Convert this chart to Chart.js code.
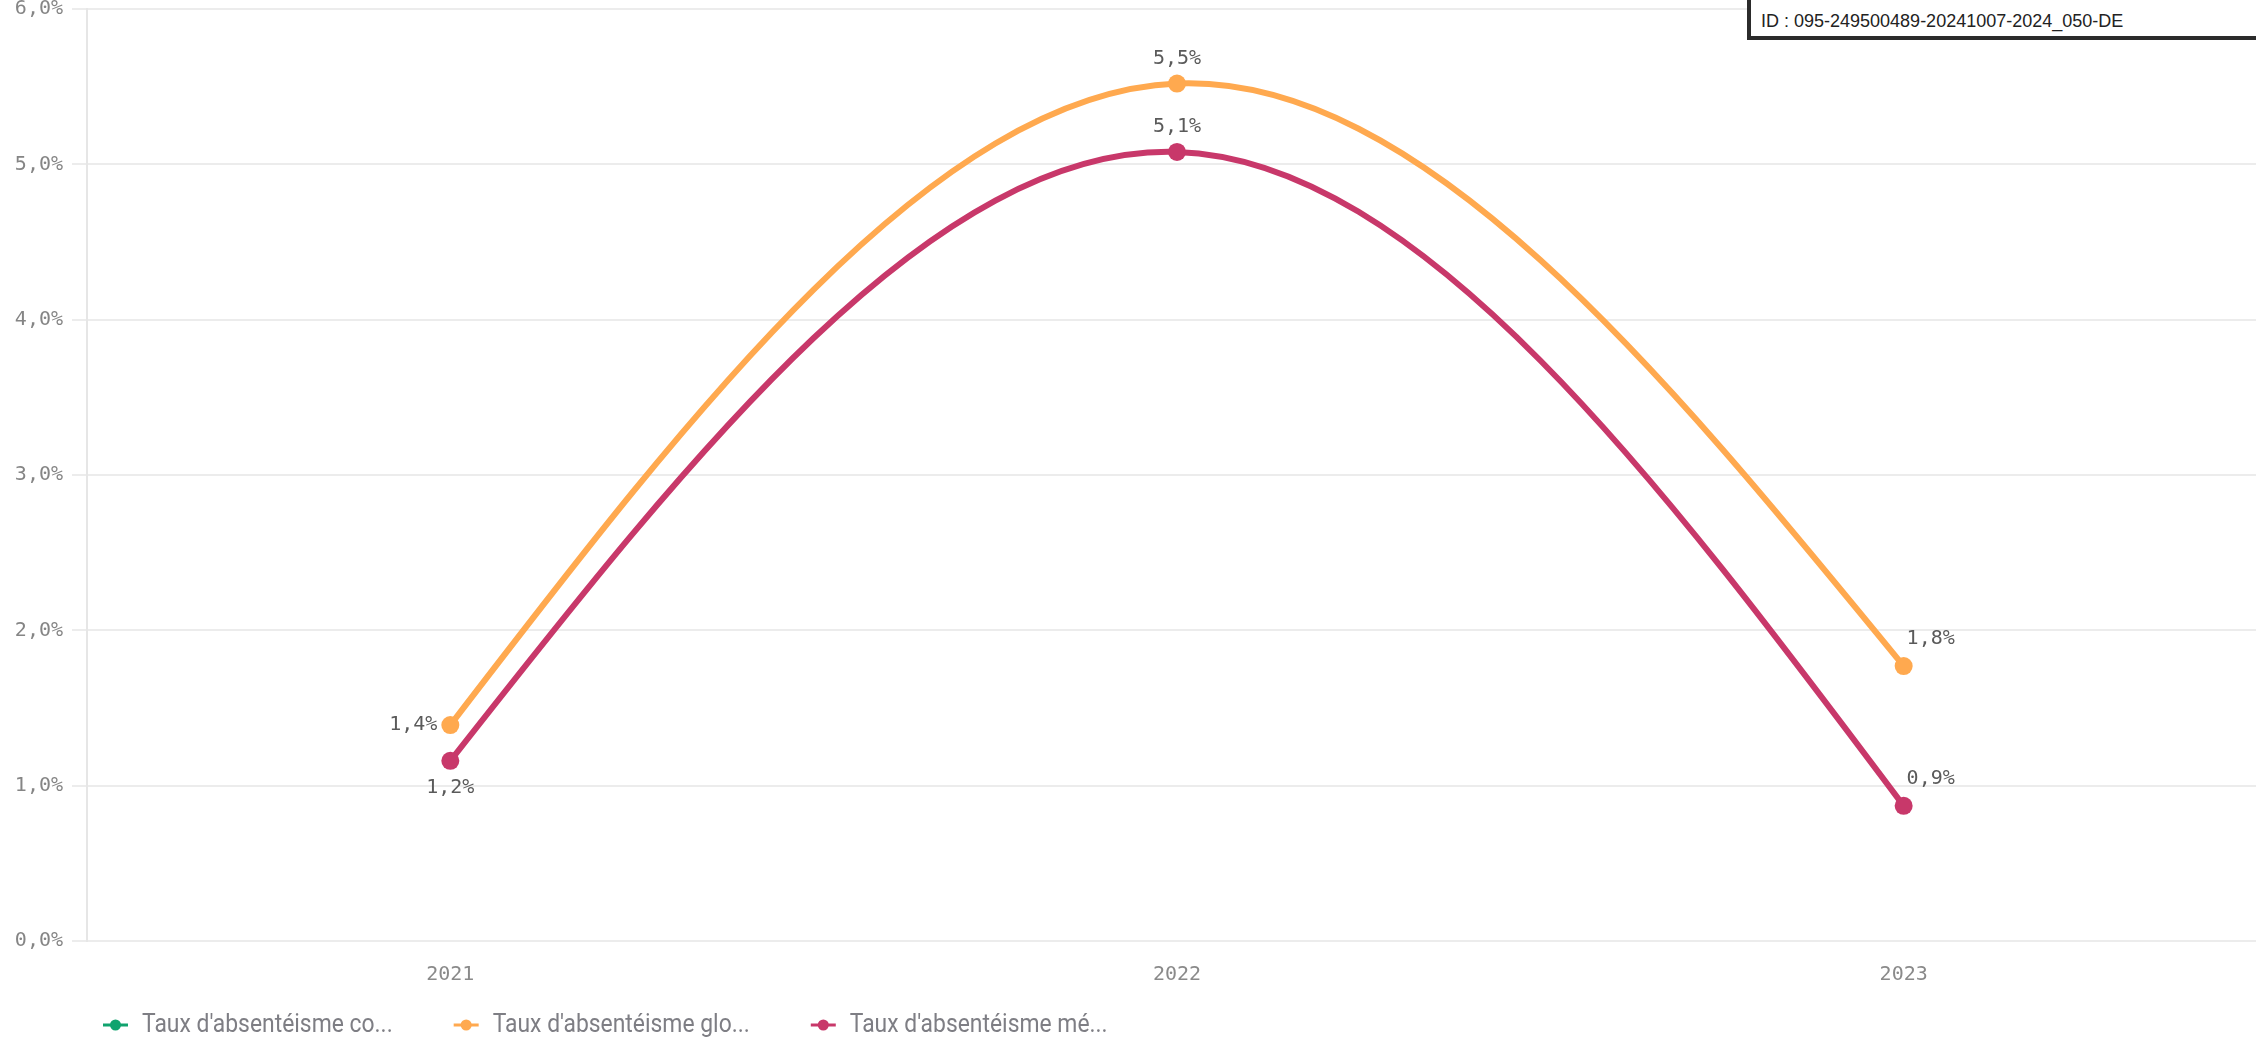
<!DOCTYPE html>
<html lang="fr">
<head>
<meta charset="utf-8">
<title>Taux d'absentéisme</title>
<script src="https://cdn.jsdelivr.net/npm/chart.js@4/dist/chart.umd.min.js"></script>
<style>
    body { margin: 0; background: #ffffff; }
    #zone { position: relative; width: 2256px; height: 1037px; overflow: hidden; }
    #tampon {
        position: absolute; left: 1747px; top: -4px; width: 497px; height: 36px;
        border: 4px solid #2b2b2b; background: #ffffff;
        font: 18px "Liberation Sans", Arial, sans-serif; color: #222222;
        box-sizing: content-box; padding-left: 12px; line-height: 1;
    }
    #tampon span { position: absolute; left: 10px; top: 12px; white-space: nowrap; }
</style>
</head>
<body>
<div id="zone">
    <canvas id="graphique-absenteisme" width="2276" height="1037"></canvas>
    <div id="tampon"><span>ID : 095-249500489-20241007-2024_050-DE</span></div>
</div>
<script>
// Années et taux d'absentéisme (%)
const annees = ['2021', '2022', '2023'];
const tauxCourt = [null, null, null];
const tauxGlobal = [1.39, 5.52, 1.77];
const tauxMedical = [1.16, 5.08, 0.87];

const libelles = ["Taux d'absentéisme co...", "Taux d'absentéisme glo...", "Taux d'absentéisme mé..."];
const graduations = [0, 1, 2, 3, 4, 5, 6];

const couleurs = ['#10a36e', '#ffa94f', '#c8386a'];
const policeChiffres = '"DejaVu Sans Mono", monospace';

// Format français : 1,4%
function formatPourcent(v) {
    return v.toFixed(1).replace('.', ',') + '%';
}

// Points de contrôle d'une spline cubique naturelle (dérivée seconde nulle aux extrémités)
function splineNaturelle(pts) {
    const n = pts.length;
    if (n < 3) return;
    const h = [];
    for (let i = 0; i < n - 1; i++) h[i] = pts[i + 1].x - pts[i].x;
    const cp = [], dp = [];
    const M = new Array(n).fill(0);
    for (let i = 1; i < n - 1; i++) {
        const a = h[i - 1], b = 2 * (h[i - 1] + h[i]), c = h[i];
        const d = 6 * ((pts[i + 1].y - pts[i].y) / h[i] - (pts[i].y - pts[i - 1].y) / h[i - 1]);
        const m = b - (i > 1 ? a * cp[i - 1] : 0);
        cp[i] = c / m;
        dp[i] = (d - (i > 1 ? a * dp[i - 1] : 0)) / m;
    }
    for (let i = n - 2; i >= 1; i--) M[i] = dp[i] - cp[i] * M[i + 1];
    for (let i = 0; i < n - 1; i++) {
        const p0 = pts[i], p1 = pts[i + 1], hi = h[i];
        const s = (p1.y - p0.y) / hi;
        const d0 = s - hi * (2 * M[i] + M[i + 1]) / 6;
        const d1 = s + hi * (M[i] + 2 * M[i + 1]) / 6;
        p0.cp2x = p0.x + hi / 3;
        p0.cp2y = p0.y + d0 * hi / 3;
        p1.cp1x = p1.x - hi / 3;
        p1.cp1y = p1.y - d1 * hi / 3;
    }
}

const splinePlugin = {
    id: 'splineNaturelle',
    beforeDatasetDraw(chart, args) {
        const meta = args.meta;
        if (!meta.dataset) return;
        meta.dataset.updateControlPoints(chart.chartArea, 'x');
        splineNaturelle(meta.data.filter(p => !p.skip));
    }
};

// Étiquettes de valeur à côté de chaque point
const etiquettesPlugin = {
    id: 'etiquettesValeurs',
    afterDatasetsDraw(chart) {
        const ctx = chart.ctx;
        ctx.save();
        ctx.font = '20px ' + policeChiffres;
        ctx.fillStyle = '#5a5a5a';
        ctx.textBaseline = 'middle';
        chart.data.datasets.forEach((ds, i) => {
            const meta = chart.getDatasetMeta(i);
            meta.data.forEach((pt, j) => {
                const v = ds.data[j];
                if (v === null || v === undefined) return;
                const texte = formatPourcent(v);
                const pos = ds.positionsEtiquettes[j];
                if (pos === 'gauche') {
                    ctx.textAlign = 'right';
                    ctx.fillText(texte, pt.x - 13, pt.y);
                } else if (pos === 'dessous') {
                    ctx.textAlign = 'center';
                    ctx.fillText(texte, pt.x, pt.y + 27);
                } else if (pos === 'dessusDroite') {
                    ctx.textAlign = 'center';
                    ctx.fillText(texte, pt.x + 27, pt.y - 27);
                } else {
                    ctx.textAlign = 'center';
                    ctx.fillText(texte, pt.x, pt.y - 25);
                }
            });
        });
        ctx.restore();
    }
};

// Légende dessinée en bas à gauche (texte resserré)
const legendePlugin = {
    id: 'legendeBas',
    afterDraw(chart) {
        const ctx = chart.ctx;
        const serrage = 0.88;
        ctx.save();
        ctx.font = '26px Roboto, sans-serif';
        ctx.textBaseline = 'middle';
        ctx.textAlign = 'left';
        let x = 103;
        const y = 1025;
        chart.data.datasets.forEach(ds => {
            ctx.strokeStyle = ds.borderColor;
            ctx.lineWidth = 3;
            ctx.beginPath();
            ctx.moveTo(x, y);
            ctx.lineTo(x + 25, y);
            ctx.stroke();
            ctx.fillStyle = ds.borderColor;
            ctx.beginPath();
            ctx.arc(x + 12.5, y, 5.5, 0, Math.PI * 2);
            ctx.fill();
            ctx.fillStyle = '#7e7e84';
            ctx.save();
            ctx.translate(x + 39, y);
            ctx.scale(serrage, 1);
            ctx.fillText(ds.label, 0, 0);
            ctx.restore();
            x += 39 + ctx.measureText(ds.label).width * serrage + 61;
        });
        ctx.restore();
    }
};

function serie(label, data, couleur, positions) {
    return {
        label: label,
        data: data,
        borderColor: couleur,
        backgroundColor: couleur,
        borderWidth: 6,
        pointRadius: 9,
        pointHoverRadius: 9,
        pointBorderWidth: 0,
        tension: 0.4,
        fill: false,
        positionsEtiquettes: positions
    };
}

new Chart(document.getElementById('graphique-absenteisme'), {
    type: 'line',
    data: {
        labels: annees,
        datasets: [
            serie(libelles[0], tauxCourt, couleurs[0], ['dessus', 'dessus', 'dessus']),
            serie(libelles[1], tauxGlobal, couleurs[1], ['gauche', 'dessus', 'dessusDroite']),
            serie(libelles[2], tauxMedical, couleurs[2], ['dessous', 'dessus', 'dessusDroite'])
        ]
    },
    options: {
        responsive: false,
        animation: false,
        layout: { padding: 0 },
        plugins: {
            legend: { display: false },
            tooltip: { enabled: false }
        },
        scales: {
            x: {
                offset: true,
                grid: { display: false },
                border: { display: false },
                ticks: {
                    color: '#8a8a8a',
                    font: { family: policeChiffres, size: 20 },
                    padding: 14
                },
                afterFit(s) {
                    s.height = 96;
                    s.paddingLeft = 0;
                    s.paddingRight = 0;
                }
            },
            y: {
                min: 0,
                max: 6,
                afterBuildTicks(s) { s.ticks = graduations.map(v => ({ value: v })); },
                grid: { color: '#ececec', lineWidth: 2, tickLength: 15 },
                border: { color: '#e6e6e6', width: 2 },
                ticks: {
                    color: '#858585',
                    font: { family: policeChiffres, size: 20 },
                    padding: 9,
                    callback: v => formatPourcent(v)
                },
                afterFit(s) {
                    s.width = 87;
                    s.paddingTop = 6;
                    s.paddingBottom = 0;
                }
            }
        }
    },
    plugins: [splinePlugin, etiquettesPlugin, legendePlugin]
});
</script>
</body>
</html>
